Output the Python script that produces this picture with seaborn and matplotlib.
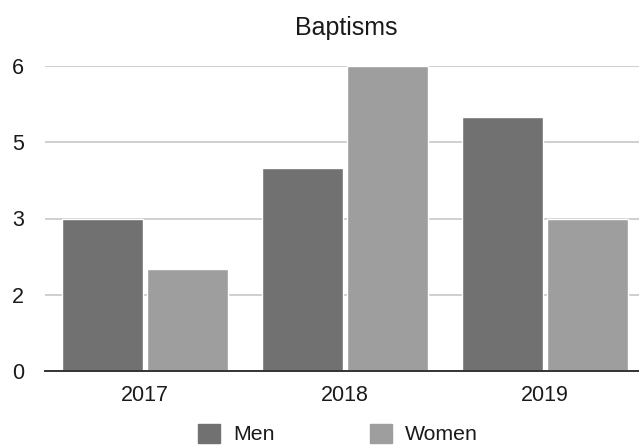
import pandas as pd
import seaborn as sns
import matplotlib.pyplot as plt
from matplotlib.patches import Patch

years = ["2017", "2018", "2019"]
men = [3, 4, 5]
women = [2, 6, 3]
y_ticks = [0, 1.5, 3, 4.5, 6]
y_tick_labels = ["0", "2", "3", "5", "6"]

df = pd.DataFrame({
    "Year": years * 2,
    "Count": men + women,
    "Sex": ["Men"] * 3 + ["Women"] * 3,
})

sns.set_style("white")
plt.rcParams["font.family"] = ["Liberation Sans", "DejaVu Sans"]

colors = {"Men": "#717171", "Women": "#9e9e9e"}

fig = plt.figure(figsize=(6.39, 4.46), dpi=100)
ax = fig.add_axes([45 / 639, 75 / 446, 600 / 639, 305 / 446])

sns.barplot(data=df, x="Year", y="Count", hue="Sex", palette=colors,
            width=0.85, gap=0.05, saturation=1, legend=False, ax=ax)

ax.set_xlim(-0.5, 2.5)
ax.set_ylim(0, 6)
ax.set_yticks(y_ticks)
ax.set_yticklabels(y_tick_labels)
ax.yaxis.grid(True, color="#cccccc", linewidth=1.3)
ax.set_axisbelow(True)
for s in ["top", "right", "left"]:
    ax.spines[s].set_visible(False)
ax.spines["bottom"].set_color("#333333")
ax.spines["bottom"].set_linewidth(1.4)
ax.spines["bottom"].set_zorder(5)
ax.tick_params(axis="both", length=0, labelsize=15.5, colors="#1a1a1a")
ax.tick_params(axis="y", pad=15)
ax.tick_params(axis="x", pad=10)
ax.set_xlabel("")
ax.set_ylabel("")

fig.text(346 / 639, 1 - 35 / 446, "Baptisms", ha="center", va="baseline",
         fontsize=18, color="#1a1a1a")

handles = [Patch(color=colors["Men"], label="Men"),
           Patch(color=colors["Women"], label="Women")]
fig.legend(handles=handles, loc="center", bbox_to_anchor=(338 / 639, 1 - 434 / 446),
           ncol=2, frameon=False, fontsize=15.3, handlelength=1.04, handleheight=1.0,
           columnspacing=4.48, handletextpad=0.61, labelcolor="#1a1a1a",
           borderpad=0.1)

fig.savefig("out.png", dpi=100)
